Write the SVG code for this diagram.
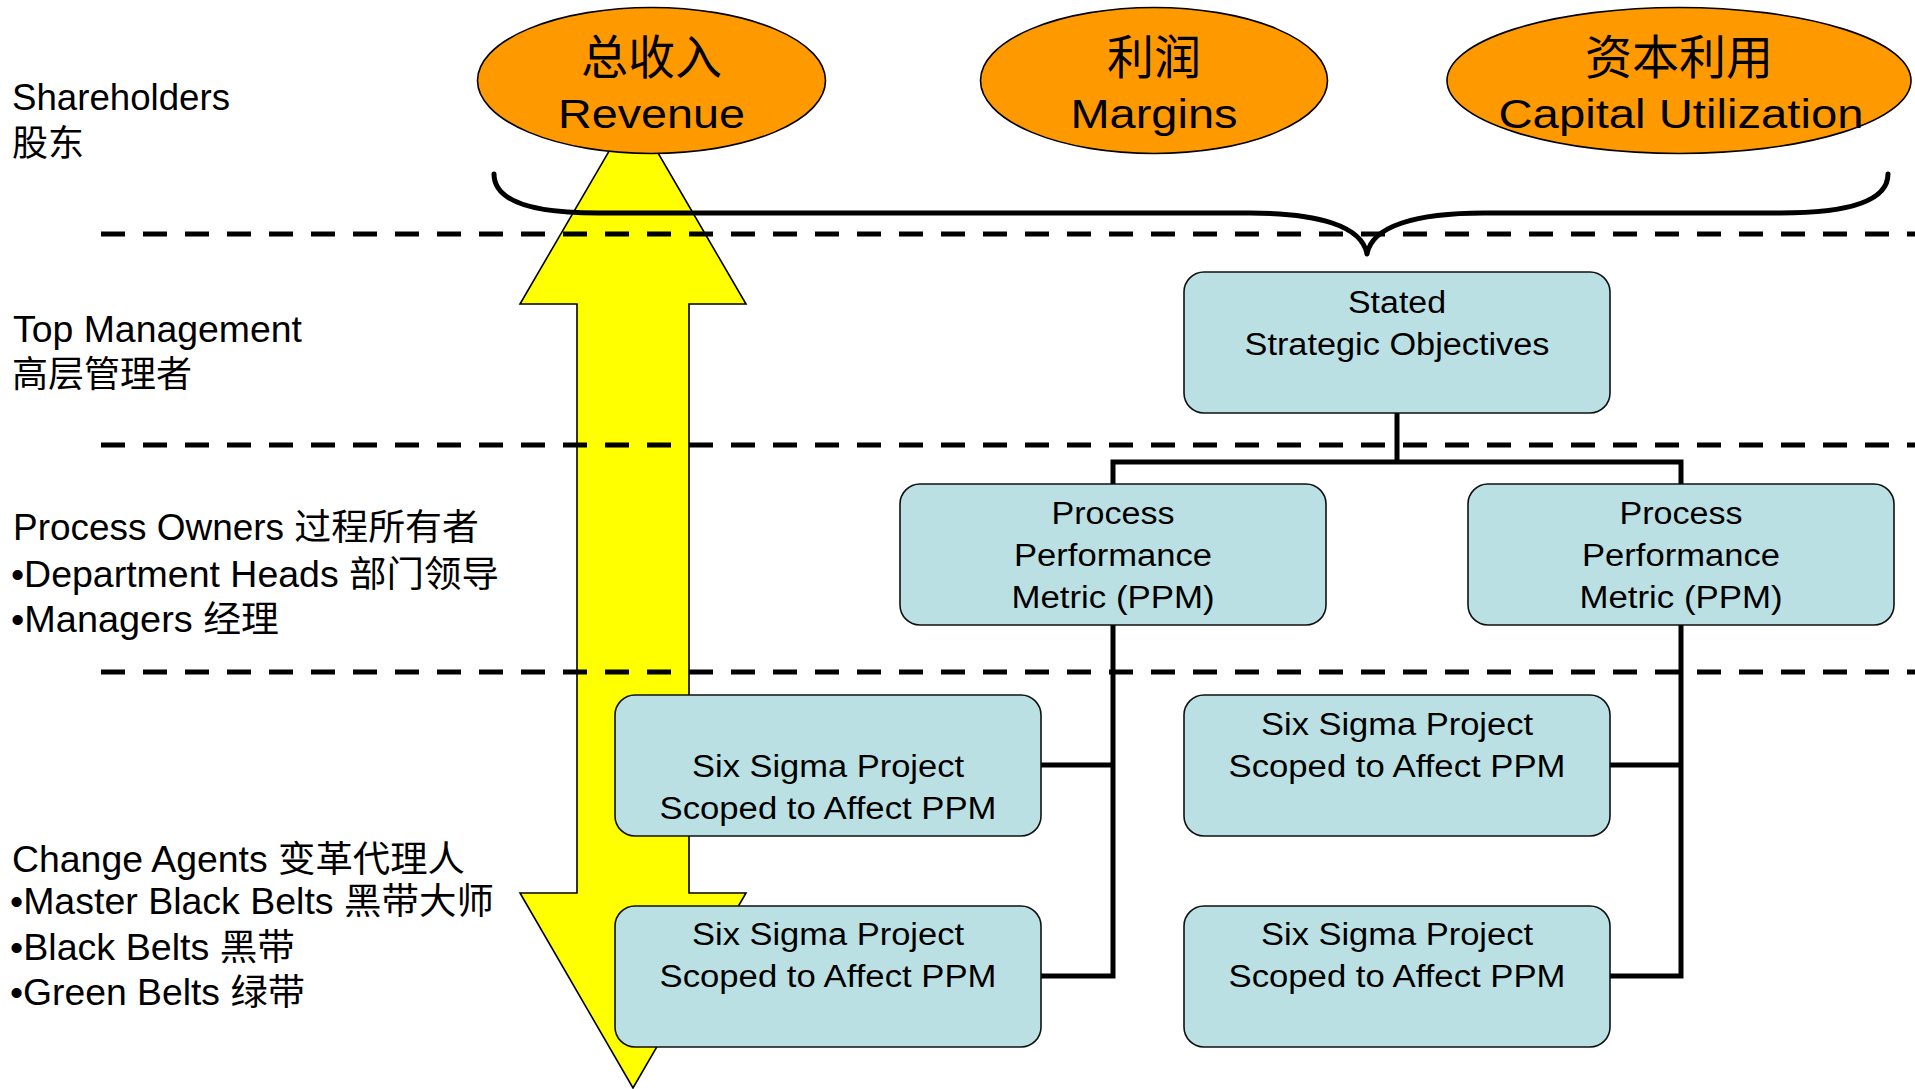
<svg xmlns="http://www.w3.org/2000/svg" width="1915" height="1089" viewBox="0 0 1915 1089">
<style>
text{font-family:"Liberation Sans","Noto Sans CJK SC",sans-serif;fill:#000}
.lbl{font-size:36px}
.bx rect{fill:#bbe0e3;stroke:#111;stroke-width:1.6}
.bx text{font-size:31px;text-anchor:middle}
.el ellipse{fill:#ff9900;stroke:#000;stroke-width:1.6}
.el text{text-anchor:middle}
.cjk{font-size:47px}
.en{font-size:40px}
.dash{stroke:#000;stroke-width:5;stroke-dasharray:24 18;fill:none}
.conn{stroke:#000;stroke-width:5;fill:none;stroke-linejoin:miter}
</style>

<!-- Yellow double-headed arrow -->
<g id="arrow">
<polygon points="633,110 746,304 689,304 689,893 746,893 633,1088 520,893 577,893 577,304 520,304" fill="#ffff00" stroke="#000" stroke-width="1.6"/>
</g>

<!-- Level separators -->
<g id="separators">
<line class="dash" x1="101" y1="234" x2="1915" y2="234"/>
<line class="dash" x1="101" y1="445" x2="1915" y2="445"/>
<line class="dash" x1="101" y1="672" x2="1915" y2="672"/>
</g>

<!-- Left level labels -->
<g id="labels">
<text class="lbl" x="12" y="110" textLength="218" lengthAdjust="spacingAndGlyphs">Shareholders</text>
<text class="lbl" x="12" y="156">股东</text>
<text class="lbl" x="13" y="342" textLength="289" lengthAdjust="spacingAndGlyphs">Top Management</text>
<text class="lbl" x="12" y="387">高层管理者</text>
<text class="lbl" x="13" y="540" textLength="466" lengthAdjust="spacingAndGlyphs">Process Owners 过程所有者</text>
<text class="lbl" x="11" y="587" textLength="488" lengthAdjust="spacingAndGlyphs">•Department Heads 部门领导</text>
<text class="lbl" x="11" y="632" textLength="268" lengthAdjust="spacingAndGlyphs">•Managers 经理</text>
<text class="lbl" x="12" y="872" textLength="453" lengthAdjust="spacingAndGlyphs">Change Agents 变革代理人</text>
<text class="lbl" x="10" y="914" textLength="484" lengthAdjust="spacingAndGlyphs">•Master Black Belts 黑带大师</text>
<text class="lbl" x="10" y="960" textLength="285" lengthAdjust="spacingAndGlyphs">•Black Belts 黑带</text>
<text class="lbl" x="10" y="1005" textLength="295" lengthAdjust="spacingAndGlyphs">•Green Belts 绿带</text>
</g>

<!-- Shareholder goals -->
<g id="revenue" class="el">
<ellipse cx="651.5" cy="80.5" rx="174" ry="73"/>
<text class="cjk" x="651.5" y="74">总收入</text>
<text class="en" x="651.5" y="128" textLength="187" lengthAdjust="spacingAndGlyphs">Revenue</text>
</g>
<g id="margins" class="el">
<ellipse cx="1154" cy="80.5" rx="173.5" ry="73"/>
<text class="cjk" x="1154" y="74">利润</text>
<text class="en" x="1154" y="128" textLength="167" lengthAdjust="spacingAndGlyphs">Margins</text>
</g>
<g id="capital" class="el">
<ellipse cx="1679" cy="80.5" rx="232" ry="73"/>
<text class="cjk" x="1679" y="74">资本利用</text>
<text class="en" x="1681" y="128" textLength="365" lengthAdjust="spacingAndGlyphs">Capital Utilization</text>
</g>

<!-- Brace grouping shareholder goals -->
<g id="brace">
<path d="M494 174 C494 200 528 213 598 213 L1250 213 C1318 213 1362 226 1367 254 C1372 226 1416 213 1484 213 L1780 213 C1852 213 1888 200 1888 174" fill="none" stroke="#000" stroke-width="5" stroke-linecap="round" stroke-linejoin="round"/>
</g>

<!-- Connectors -->
<g id="connectors">
<path class="conn" d="M1397 413 V462"/>
<path class="conn" d="M1113 484 V462 H1681 V484"/>
<path class="conn" d="M1113 625 V976 H1041 M1113 765 H1041"/>
<path class="conn" d="M1681 625 V976 H1610 M1681 765 H1610"/>
</g>

<!-- Nodes -->
<g id="stated" class="bx">
<rect x="1184" y="272" width="426" height="141" rx="20"/>
<text x="1397" y="313" textLength="98" lengthAdjust="spacingAndGlyphs">Stated</text>
<text x="1397" y="355" textLength="305" lengthAdjust="spacingAndGlyphs">Strategic Objectives</text>
</g>
<g id="ppm-left" class="bx">
<rect x="900" y="484" width="426" height="141" rx="20"/>
<text x="1113" y="524" textLength="123" lengthAdjust="spacingAndGlyphs">Process</text>
<text x="1113" y="566" textLength="198" lengthAdjust="spacingAndGlyphs">Performance</text>
<text x="1113" y="608" textLength="203" lengthAdjust="spacingAndGlyphs">Metric (PPM)</text>
</g>
<g id="ppm-right" class="bx">
<rect x="1468" y="484" width="426" height="141" rx="20"/>
<text x="1681" y="524" textLength="123" lengthAdjust="spacingAndGlyphs">Process</text>
<text x="1681" y="566" textLength="198" lengthAdjust="spacingAndGlyphs">Performance</text>
<text x="1681" y="608" textLength="203" lengthAdjust="spacingAndGlyphs">Metric (PPM)</text>
</g>
<g id="project-1" class="bx">
<rect x="615" y="695" width="426" height="141" rx="20"/>
<text x="828" y="777" textLength="272" lengthAdjust="spacingAndGlyphs">Six Sigma Project</text>
<text x="828" y="819" textLength="337" lengthAdjust="spacingAndGlyphs">Scoped to Affect PPM</text>
</g>
<g id="project-2" class="bx">
<rect x="1184" y="695" width="426" height="141" rx="20"/>
<text x="1397" y="735" textLength="272" lengthAdjust="spacingAndGlyphs">Six Sigma Project</text>
<text x="1397" y="777" textLength="337" lengthAdjust="spacingAndGlyphs">Scoped to Affect PPM</text>
</g>
<g id="project-3" class="bx">
<rect x="615" y="906" width="426" height="141" rx="20"/>
<text x="828" y="945" textLength="272" lengthAdjust="spacingAndGlyphs">Six Sigma Project</text>
<text x="828" y="987" textLength="337" lengthAdjust="spacingAndGlyphs">Scoped to Affect PPM</text>
</g>
<g id="project-4" class="bx">
<rect x="1184" y="906" width="426" height="141" rx="20"/>
<text x="1397" y="945" textLength="272" lengthAdjust="spacingAndGlyphs">Six Sigma Project</text>
<text x="1397" y="987" textLength="337" lengthAdjust="spacingAndGlyphs">Scoped to Affect PPM</text>
</g>
</svg>
